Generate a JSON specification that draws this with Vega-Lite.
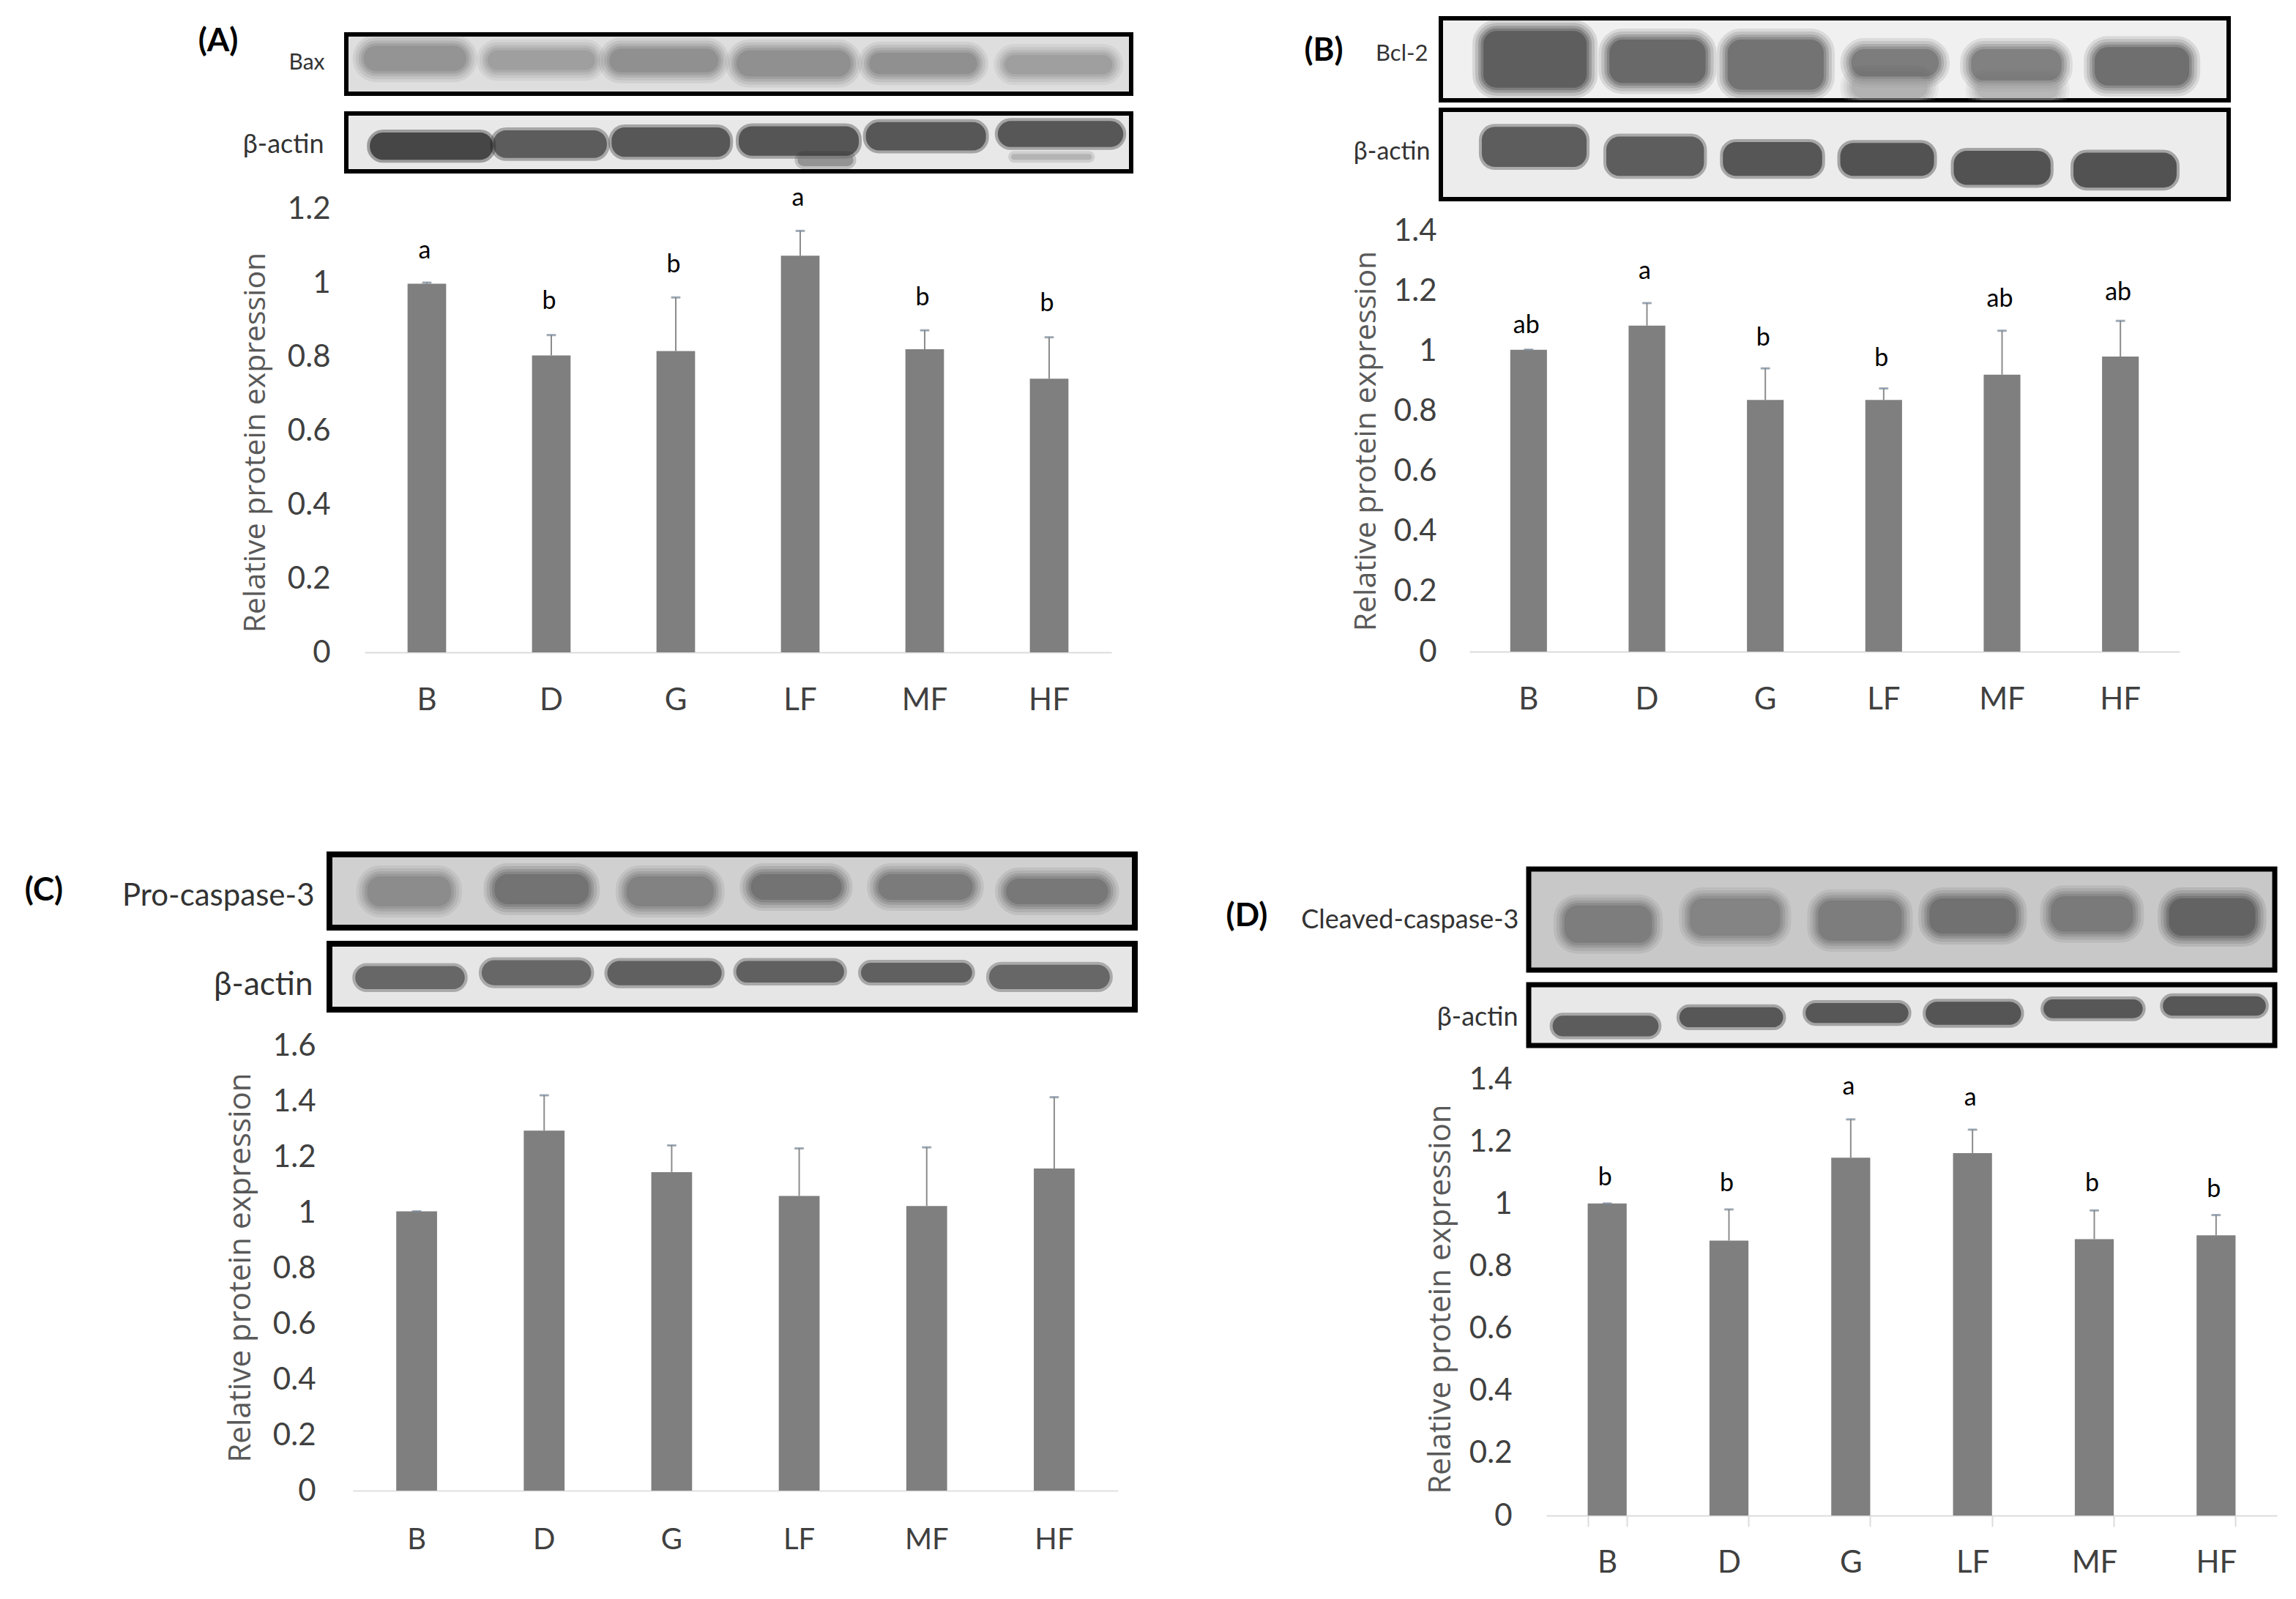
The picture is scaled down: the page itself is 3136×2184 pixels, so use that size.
{"$schema":"https://vega.github.io/schema/vega-lite/v6.json","padding":{"left":0,"top":4,"right":0,"bottom":0},"background":"white","align":"none","spacing":158,
"config":{"view":{"stroke":null},"axis":{"grid":false,"labelFont":"Lato","titleFont":"Open Sans"},"style":{"s1":{"strokeWidth":30,"opacity":0.12,"cornerRadius":18},"s2":{"strokeWidth":22,"opacity":0.15,"cornerRadius":18},"s3":{"strokeWidth":14,"opacity":0.2,"cornerRadius":18},"s4":{"strokeWidth":7,"opacity":0.25,"cornerRadius":18},"core":{"strokeWidth":0,"opacity":0.35,"cornerRadius":18},"t1":{"strokeWidth":8,"opacity":0.35,"cornerRadius":18},"score":{"strokeWidth":0,"opacity":0.62,"cornerRadius":18},"letter":{"font":"Lato","fontSize":34,"fill":"#222222","dx":-3}}},
"datasets":{
"A":[{"g":"B","v":0.997,"u":1.0,"t":"a","p":1.085},{"g":"D","v":0.803,"u":0.858,"t":"b","p":0.949},{"g":"G","v":0.815,"u":0.96,"t":"b","p":1.048},{"g":"LF","v":1.073,"u":1.14,"t":"a","p":1.228},{"g":"MF","v":0.82,"u":0.871,"t":"b","p":0.958},{"g":"HF","v":0.74,"u":0.852,"t":"b","p":0.943}],
"B":[{"g":"B","v":1.004,"u":1.004,"t":"ab","p":1.083},{"g":"D","v":1.084,"u":1.159,"t":"a","p":1.263},{"g":"G","v":0.837,"u":0.942,"t":"b","p":1.042},{"g":"LF","v":0.837,"u":0.875,"t":"b","p":0.973},{"g":"MF","v":0.921,"u":1.067,"t":"ab","p":1.171},{"g":"HF","v":0.981,"u":1.1,"t":"ab","p":1.194}],
"C":[{"g":"B","v":1.004,"u":1.004},{"g":"D","v":1.294,"u":1.421},{"g":"G","v":1.145,"u":1.241},{"g":"LF","v":1.059,"u":1.23},{"g":"MF","v":1.023,"u":1.234},{"g":"HF","v":1.158,"u":1.414}],
"D":[{"g":"B","v":1.001,"u":1.001,"t":"b","p":1.084},{"g":"D","v":0.882,"u":0.982,"t":"b","p":1.064},{"g":"G","v":1.148,"u":1.271,"t":"a","p":1.373},{"g":"LF","v":1.163,"u":1.238,"t":"a","p":1.338},{"g":"MF","v":0.887,"u":0.979,"t":"b","p":1.063},{"g":"HF","v":0.899,"u":0.964,"t":"b","p":1.045}],
"bax":[{"x":2.2,"x2":15.3,"y":19,"y2":62,"s":0.4},{"x":18,"x2":31.7,"y":27,"y2":60,"s":0.35},{"x":33.5,"x2":47.4,"y":24,"y2":64,"s":0.42},{"x":49.7,"x2":64.3,"y":27,"y2":71,"s":0.42},{"x":66.6,"x2":80.4,"y":31,"y2":67,"s":0.42},{"x":83.9,"x2":97.6,"y":35,"y2":67,"s":0.35}],
"actA":[{"x":3,"x2":18.7,"y":33,"y2":80,"s":0.8},{"x":18.7,"x2":33.2,"y":29,"y2":77,"s":0.68},{"x":33.8,"x2":48.9,"y":24,"y2":75,"s":0.7},{"x":57.5,"x2":64.6,"y":70,"y2":91,"s":0.4},{"x":50,"x2":65.3,"y":22,"y2":73,"s":0.72},{"x":66.2,"x2":81.5,"y":15,"y2":64,"s":0.7},{"x":84.7,"x2":95,"y":70,"y2":80,"s":0.25},{"x":83,"x2":99,"y":13,"y2":58,"s":0.7}],
"bcl":[{"x":5.4,"x2":18.5,"y":15.5,"y2":84.5,"s":0.72},{"x":21.4,"x2":33.6,"y":26,"y2":79,"s":0.65},{"x":36.4,"x2":48.6,"y":26,"y2":87,"s":0.6},{"x":52.1,"x2":61.8,"y":71,"y2":97,"s":0.28},{"x":52.1,"x2":63.2,"y":37.5,"y2":71,"s":0.55},{"x":68,"x2":78.4,"y":76,"y2":97,"s":0.25},{"x":67.3,"x2":78.8,"y":37.5,"y2":76,"s":0.52},{"x":83,"x2":95,"y":35,"y2":82,"s":0.62}],
"actB":[{"x":5.2,"x2":18.5,"y":19,"y2":64,"s":0.68},{"x":21,"x2":33.4,"y":30,"y2":74,"s":0.68},{"x":35.8,"x2":48.4,"y":36,"y2":74,"s":0.72},{"x":50.7,"x2":62.6,"y":37,"y2":74,"s":0.74},{"x":65.1,"x2":77.4,"y":46,"y2":84,"s":0.74},{"x":80.3,"x2":93.4,"y":48,"y2":87,"s":0.74}],
"pro":[{"x":4.7,"x2":15.1,"y":30,"y2":71,"s":0.42},{"x":20.5,"x2":32.2,"y":27,"y2":68,"s":0.55},{"x":36.9,"x2":47.7,"y":30,"y2":71,"s":0.47},{"x":52.3,"x2":63.6,"y":27,"y2":62,"s":0.55},{"x":68.1,"x2":79.9,"y":27,"y2":62,"s":0.5},{"x":84,"x2":96.7,"y":33,"y2":68,"s":0.52}],
"actC":[{"x":3.2,"x2":16.8,"y":34,"y2":69,"s":0.62},{"x":18.9,"x2":32.5,"y":25,"y2":63,"s":0.62},{"x":34.5,"x2":48.7,"y":26,"y2":63,"s":0.65},{"x":50.5,"x2":63.9,"y":26,"y2":59,"s":0.65},{"x":66,"x2":79.8,"y":29,"y2":59,"s":0.65},{"x":81.9,"x2":96.9,"y":32,"y2":69,"s":0.62}],
"cle":[{"x":4.8,"x2":16.5,"y":36,"y2":73,"s":0.48},{"x":21.6,"x2":33.7,"y":29,"y2":66,"s":0.45},{"x":38.8,"x2":50,"y":31,"y2":71,"s":0.48},{"x":53.7,"x2":65.3,"y":29,"y2":64,"s":0.55},{"x":70,"x2":81,"y":27,"y2":62,"s":0.5},{"x":85.8,"x2":97.4,"y":29,"y2":66,"s":0.62}],
"actD":[{"x":3.2,"x2":17.4,"y":51,"y2":85,"s":0.68},{"x":20.2,"x2":34.1,"y":37,"y2":70,"s":0.7},{"x":37.1,"x2":50.9,"y":30,"y2":63,"s":0.7},{"x":53.2,"x2":66,"y":28,"y2":66,"s":0.72},{"x":69,"x2":82.3,"y":24,"y2":55,"s":0.7},{"x":85,"x2":98.8,"y":19,"y2":51,"s":0.7}],
"none":[{"n":""}]
},
"vconcat":[
{"spacing":230,"align":"none","hconcat":[
{"width":37,"height":1,"data":{"name":"none"},"mark":"text","encoding":{"text":{"field":"n"}}},
{"spacing":27,"bounds":"flush","align":"none","vconcat":[
{"width":1072,"height":10,"data":{"name":"none"},"mark":"text","encoding":{"text":{"field":"n"}}},
{"width":1072,"height":81,"view":{"stroke":"#000000","strokeWidth":6,"fill":"#dedede"},"title":{"text":"(A)","frame":"group","anchor":"start","align":"center","baseline":"middle","dx":-175,"dy":54,"offset":0,"fontSize":44,"font":"Lato","fontWeight":"bold","color":"#000000"},"data":{"name":"bax"},
"encoding":{"x":{"field":"x","type":"quantitative","scale":{"domain":[0,100]},"axis":null},"x2":{"field":"x2"},"y":{"field":"y","type":"quantitative","scale":{"domain":[0,100],"reverse":true},"axis":{"values":[],"domain":false,"ticks":false,"labels":false,"title":"Bax","titleFont":"Lato","titleAngle":0,"titleAlign":"right","titleBaseline":"middle","titleX":-30,"titleY":38,"titleFontSize":30,"titleFontWeight":"normal","titleColor":"#333333"}},"y2":{"field":"y2"},"fill":{"field":"s","type":"quantitative","scale":{"domain":[0,0.85],"range":["#f0f0f0","#000000"]},"legend":null},"stroke":{"field":"s","type":"quantitative","scale":{"domain":[0,0.85],"range":["#f0f0f0","#000000"]},"legend":null}},
"layer":[{"mark":{"type":"rect","style":"s1","clip":true}},{"mark":{"type":"rect","style":"s2","clip":true}},{"mark":{"type":"rect","style":"s3","clip":true}},{"mark":{"type":"rect","style":"s4","clip":true}},{"mark":{"type":"rect","style":"core","clip":true}}]},
{"width":1072,"height":79,"view":{"stroke":"#000000","strokeWidth":6,"fill":"#e8e8e8"},"data":{"name":"actA"},
"encoding":{"x":{"field":"x","type":"quantitative","scale":{"domain":[0,100]},"axis":null},"x2":{"field":"x2"},"y":{"field":"y","type":"quantitative","scale":{"domain":[0,100],"reverse":true},"axis":{"values":[],"domain":false,"ticks":false,"labels":false,"title":"β-actin","titleFont":"Lato","titleAngle":0,"titleAlign":"right","titleBaseline":"middle","titleX":-31,"titleY":42,"titleFontSize":36,"titleFontWeight":"normal","titleColor":"#333333"}},"y2":{"field":"y2"},"fill":{"field":"s","type":"quantitative","scale":{"domain":[0,0.85],"range":["#f0f0f0","#000000"]},"legend":null},"stroke":{"field":"s","type":"quantitative","scale":{"domain":[0,0.85],"range":["#f0f0f0","#000000"]},"legend":null}},
"layer":[{"mark":{"type":"rect","style":"t1","clip":true}},{"mark":{"type":"rect","style":"score","clip":true}}]},
{"width":1072,"height":630,"data":{"name":"A"},
"encoding":{"x":{"field":"g","type":"nominal","sort":null,"scale":{"range":[25,1045],"paddingInner":0.69,"paddingOuter":0.345},"axis":{"title":null,"labelAngle":0,"ticks":false,"domainColor":"#dcdcdc","domainWidth":2,"labelFontSize":42,"labelColor":"#404040","labelPadding":45}}},
"layer":[
{"mark":{"type":"bar","fill":"#7f7f7f"},"encoding":{"y":{"field":"v","type":"quantitative","scale":{"domain":[0,1.2],"range":[630,24],"nice":false},"axis":{"title":"Relative protein expression","titleFontSize":41,"titleFontWeight":"normal","titleColor":"#595959","titleX":-103,"titleY":343,"values":[0,0.2,0.4,0.6,0.8,1,1.2],"format":"~g","domain":false,"ticks":false,"labelFontSize":42,"labelColor":"#404040","labelPadding":22}}}},
{"mark":{"type":"rule","stroke":"#8c8c8c","strokeWidth":2},"encoding":{"y":{"field":"v","type":"quantitative"},"y2":{"field":"u"}}},
{"mark":{"type":"tick","stroke":"#8c8c8c","thickness":2,"size":12},"encoding":{"y":{"field":"u","type":"quantitative"}}},
{"mark":{"type":"text","style":"letter"},"encoding":{"y":{"field":"p","type":"quantitative"},"text":{"field":"t"}}}]}
]},
{"spacing":13,"bounds":"flush","align":"none","vconcat":[
{"width":1076,"height":2,"data":{"name":"none"},"mark":"text","encoding":{"text":{"field":"n"}}},
{"width":1076,"height":112,"view":{"stroke":"#000000","strokeWidth":6,"fill":"#f0f0f0"},"title":{"text":"(B)","frame":"group","anchor":"start","align":"center","baseline":"middle","dx":-160,"dy":89,"offset":0,"fontSize":44,"font":"Lato","fontWeight":"bold","color":"#000000"},"data":{"name":"bcl"},
"encoding":{"x":{"field":"x","type":"quantitative","scale":{"domain":[0,100]},"axis":null},"x2":{"field":"x2"},"y":{"field":"y","type":"quantitative","scale":{"domain":[0,100],"reverse":true},"axis":{"values":[],"domain":false,"ticks":false,"labels":false,"title":"Bcl-2","titleFont":"Lato","titleAngle":0,"titleAlign":"right","titleBaseline":"middle","titleX":-18,"titleY":48,"titleFontSize":31,"titleFontWeight":"normal","titleColor":"#333333"}},"y2":{"field":"y2"},"fill":{"field":"s","type":"quantitative","scale":{"domain":[0,0.85],"range":["#f0f0f0","#000000"]},"legend":null},"stroke":{"field":"s","type":"quantitative","scale":{"domain":[0,0.85],"range":["#f0f0f0","#000000"]},"legend":null}},
"layer":[{"mark":{"type":"rect","style":"s1","clip":true}},{"mark":{"type":"rect","style":"s2","clip":true}},{"mark":{"type":"rect","style":"s3","clip":true}},{"mark":{"type":"rect","style":"s4","clip":true}},{"mark":{"type":"rect","style":"core","clip":true}}]},
{"width":1076,"height":122,"view":{"stroke":"#000000","strokeWidth":6,"fill":"#ececec"},"data":{"name":"actB"},
"encoding":{"x":{"field":"x","type":"quantitative","scale":{"domain":[0,100]},"axis":null},"x2":{"field":"x2"},"y":{"field":"y","type":"quantitative","scale":{"domain":[0,100],"reverse":true},"axis":{"values":[],"domain":false,"ticks":false,"labels":false,"title":"β-actin","titleFont":"Lato","titleAngle":0,"titleAlign":"right","titleBaseline":"middle","titleX":-15,"titleY":57,"titleFontSize":34,"titleFontWeight":"normal","titleColor":"#333333"}},"y2":{"field":"y2"},"fill":{"field":"s","type":"quantitative","scale":{"domain":[0,0.85],"range":["#f0f0f0","#000000"]},"legend":null},"stroke":{"field":"s","type":"quantitative","scale":{"domain":[0,0.85],"range":["#f0f0f0","#000000"]},"legend":null}},
"layer":[{"mark":{"type":"rect","style":"t1","clip":true}},{"mark":{"type":"rect","style":"score","clip":true}}]},
{"width":1076,"height":605,"data":{"name":"B"},
"encoding":{"x":{"field":"g","type":"nominal","sort":null,"scale":{"range":[39,1009],"paddingInner":0.69,"paddingOuter":0.345},"axis":{"title":null,"labelAngle":0,"ticks":false,"domainColor":"#dcdcdc","domainWidth":2,"labelFontSize":42,"labelColor":"#404040","labelPadding":45}}},
"layer":[
{"mark":{"type":"bar","fill":"#7f7f7f"},"encoding":{"y":{"field":"v","type":"quantitative","scale":{"domain":[0,1.4],"range":[605,30],"nice":false},"axis":{"title":"Relative protein expression","titleFontSize":41,"titleFontWeight":"normal","titleColor":"#595959","titleX":-81,"titleY":317,"values":[0,0.2,0.4,0.6,0.8,1,1.2,1.4],"format":"~g","domain":false,"ticks":false,"labelFontSize":42,"labelColor":"#404040","labelPadding":6}}}},
{"mark":{"type":"rule","stroke":"#8c8c8c","strokeWidth":2},"encoding":{"y":{"field":"v","type":"quantitative"},"y2":{"field":"u"}}},
{"mark":{"type":"tick","stroke":"#8c8c8c","thickness":2,"size":12},"encoding":{"y":{"field":"u","type":"quantitative"}}},
{"mark":{"type":"text","style":"letter"},"encoding":{"y":{"field":"p","type":"quantitative"},"text":{"field":"t"}}}]}
]}
]},
{"spacing":28,"align":"none","hconcat":[
{"width":1,"height":1,"data":{"name":"none"},"mark":"text","encoding":{"text":{"field":"n"}}},
{"spacing":22,"bounds":"flush","align":"none","vconcat":[
{"width":1100,"height":4,"data":{"name":"none"},"mark":"text","encoding":{"text":{"field":"n"}}},
{"width":1100,"height":100,"view":{"stroke":"#000000","strokeWidth":8,"fill":"#d0d0d0"},"title":{"text":"(C)","frame":"group","anchor":"start","align":"center","baseline":"middle","dx":-390,"dy":94,"offset":0,"fontSize":44,"font":"Lato","fontWeight":"bold","color":"#000000"},"data":{"name":"pro"},
"encoding":{"x":{"field":"x","type":"quantitative","scale":{"domain":[0,100]},"axis":null},"x2":{"field":"x2"},"y":{"field":"y","type":"quantitative","scale":{"domain":[0,100],"reverse":true},"axis":{"values":[],"domain":false,"ticks":false,"labels":false,"title":"Pro-caspase-3","titleFont":"Lato","titleAngle":0,"titleAlign":"right","titleBaseline":"middle","titleX":-21,"titleY":56,"titleFontSize":42,"titleFontWeight":"normal","titleColor":"#333333"}},"y2":{"field":"y2"},"fill":{"field":"s","type":"quantitative","scale":{"domain":[0,0.85],"range":["#f0f0f0","#000000"]},"legend":null},"stroke":{"field":"s","type":"quantitative","scale":{"domain":[0,0.85],"range":["#f0f0f0","#000000"]},"legend":null}},
"layer":[{"mark":{"type":"rect","style":"s1","clip":true}},{"mark":{"type":"rect","style":"s2","clip":true}},{"mark":{"type":"rect","style":"s3","clip":true}},{"mark":{"type":"rect","style":"s4","clip":true}},{"mark":{"type":"rect","style":"core","clip":true}}]},
{"width":1100,"height":90,"view":{"stroke":"#000000","strokeWidth":8,"fill":"#e6e6e6"},"data":{"name":"actC"},
"encoding":{"x":{"field":"x","type":"quantitative","scale":{"domain":[0,100]},"axis":null},"x2":{"field":"x2"},"y":{"field":"y","type":"quantitative","scale":{"domain":[0,100],"reverse":true},"axis":{"values":[],"domain":false,"ticks":false,"labels":false,"title":"β-actin","titleFont":"Lato","titleAngle":0,"titleAlign":"right","titleBaseline":"middle","titleX":-23,"titleY":56,"titleFontSize":44,"titleFontWeight":"normal","titleColor":"#333333"}},"y2":{"field":"y2"},"fill":{"field":"s","type":"quantitative","scale":{"domain":[0,0.85],"range":["#f0f0f0","#000000"]},"legend":null},"stroke":{"field":"s","type":"quantitative","scale":{"domain":[0,0.85],"range":["#f0f0f0","#000000"]},"legend":null}},
"layer":[{"mark":{"type":"rect","style":"t1","clip":true}},{"mark":{"type":"rect","style":"score","clip":true}}]},
{"width":1100,"height":635,"data":{"name":"C"},
"encoding":{"x":{"field":"g","type":"nominal","sort":null,"scale":{"range":[32,1077],"paddingInner":0.68,"paddingOuter":0.34},"axis":{"title":null,"labelAngle":0,"ticks":false,"domainColor":"#e0e0e0","domainWidth":2,"labelFontSize":40,"labelColor":"#404040","labelPadding":47}}},
"layer":[
{"mark":{"type":"bar","fill":"#7f7f7f"},"encoding":{"y":{"field":"v","type":"quantitative","scale":{"domain":[0,1.6],"range":[635,27],"nice":false},"axis":{"title":"Relative protein expression","titleFontSize":42,"titleFontWeight":"normal","titleColor":"#595959","titleX":-100,"titleY":330,"values":[0,0.2,0.4,0.6,0.8,1,1.2,1.4,1.6],"format":"~g","domain":false,"ticks":false,"labelFontSize":42,"labelColor":"#404040","labelPadding":19}}}},
{"mark":{"type":"rule","stroke":"#8c8c8c","strokeWidth":2},"encoding":{"y":{"field":"v","type":"quantitative"},"y2":{"field":"u"}}},
{"mark":{"type":"tick","stroke":"#8c8c8c","thickness":2,"size":12},"encoding":{"y":{"field":"u","type":"quantitative"}}}]}
]},
{"width":61,"height":1,"data":{"name":"none"},"mark":"text","encoding":{"text":{"field":"n"}}},
{"spacing":20,"bounds":"flush","align":"none","vconcat":[
{"width":1019,"height":26,"data":{"name":"none"},"mark":"text","encoding":{"text":{"field":"n"}}},
{"width":1019,"height":138,"view":{"stroke":"#000000","strokeWidth":7,"fill":"#c8c8c8"},"title":{"text":"(D)","frame":"group","anchor":"start","align":"center","baseline":"middle","dx":-385,"dy":109,"offset":0,"fontSize":44,"font":"Lato","fontWeight":"bold","color":"#000000"},"data":{"name":"cle"},
"encoding":{"x":{"field":"x","type":"quantitative","scale":{"domain":[0,100]},"axis":null},"x2":{"field":"x2"},"y":{"field":"y","type":"quantitative","scale":{"domain":[0,100],"reverse":true},"axis":{"values":[],"domain":false,"ticks":false,"labels":false,"title":"Cleaved-caspase-3","titleFont":"Lato","titleAngle":0,"titleAlign":"right","titleBaseline":"middle","titleX":-14,"titleY":69,"titleFontSize":36,"titleFontWeight":"normal","titleColor":"#333333"}},"y2":{"field":"y2"},"fill":{"field":"s","type":"quantitative","scale":{"domain":[0,0.85],"range":["#f0f0f0","#000000"]},"legend":null},"stroke":{"field":"s","type":"quantitative","scale":{"domain":[0,0.85],"range":["#f0f0f0","#000000"]},"legend":null}},
"layer":[{"mark":{"type":"rect","style":"s1","clip":true}},{"mark":{"type":"rect","style":"s2","clip":true}},{"mark":{"type":"rect","style":"s3","clip":true}},{"mark":{"type":"rect","style":"s4","clip":true}},{"mark":{"type":"rect","style":"core","clip":true}}]},
{"width":1019,"height":83,"view":{"stroke":"#000000","strokeWidth":7,"fill":"#e8e8e8"},"data":{"name":"actD"},
"encoding":{"x":{"field":"x","type":"quantitative","scale":{"domain":[0,100]},"axis":null},"x2":{"field":"x2"},"y":{"field":"y","type":"quantitative","scale":{"domain":[0,100],"reverse":true},"axis":{"values":[],"domain":false,"ticks":false,"labels":false,"title":"β-actin","titleFont":"Lato","titleAngle":0,"titleAlign":"right","titleBaseline":"middle","titleX":-15,"titleY":44,"titleFontSize":36,"titleFontWeight":"normal","titleColor":"#333333"}},"y2":{"field":"y2"},"fill":{"field":"s","type":"quantitative","scale":{"domain":[0,0.85],"range":["#f0f0f0","#000000"]},"legend":null},"stroke":{"field":"s","type":"quantitative","scale":{"domain":[0,0.85],"range":["#f0f0f0","#000000"]},"legend":null}},
"layer":[{"mark":{"type":"rect","style":"t1","clip":true}},{"mark":{"type":"rect","style":"score","clip":true}}]},
{"width":1022,"height":622,"data":{"name":"D"},
"encoding":{"x":{"field":"g","type":"nominal","sort":null,"scale":{"range":[24,1022],"paddingInner":0.68,"paddingOuter":0.34},"axis":{"title":null,"labelAngle":0,"ticks":true,"tickBand":"extent","tickExtra":true,"tickSize":15,"tickColor":"#dcdcdc","tickWidth":2,"domainColor":"#dcdcdc","domainWidth":2,"labelFontSize":42,"labelColor":"#404040","labelPadding":29}}},
"layer":[
{"mark":{"type":"bar","fill":"#7f7f7f"},"encoding":{"y":{"field":"v","type":"quantitative","scale":{"domain":[0,1.4],"range":[622,26],"nice":false},"axis":{"title":"Relative protein expression","titleFontSize":42,"titleFontWeight":"normal","titleColor":"#595959","titleX":-99,"titleY":326,"values":[0,0.2,0.4,0.6,0.8,1,1.2,1.4],"format":"~g","domain":false,"ticks":false,"labelFontSize":42,"labelColor":"#404040","labelPadding":23}}}},
{"mark":{"type":"rule","stroke":"#8c8c8c","strokeWidth":2},"encoding":{"y":{"field":"v","type":"quantitative"},"y2":{"field":"u"}}},
{"mark":{"type":"tick","stroke":"#8c8c8c","thickness":2,"size":12},"encoding":{"y":{"field":"u","type":"quantitative"}}},
{"mark":{"type":"text","style":"letter"},"encoding":{"y":{"field":"p","type":"quantitative"},"text":{"field":"t"}}}]}
]}
]}
]}
